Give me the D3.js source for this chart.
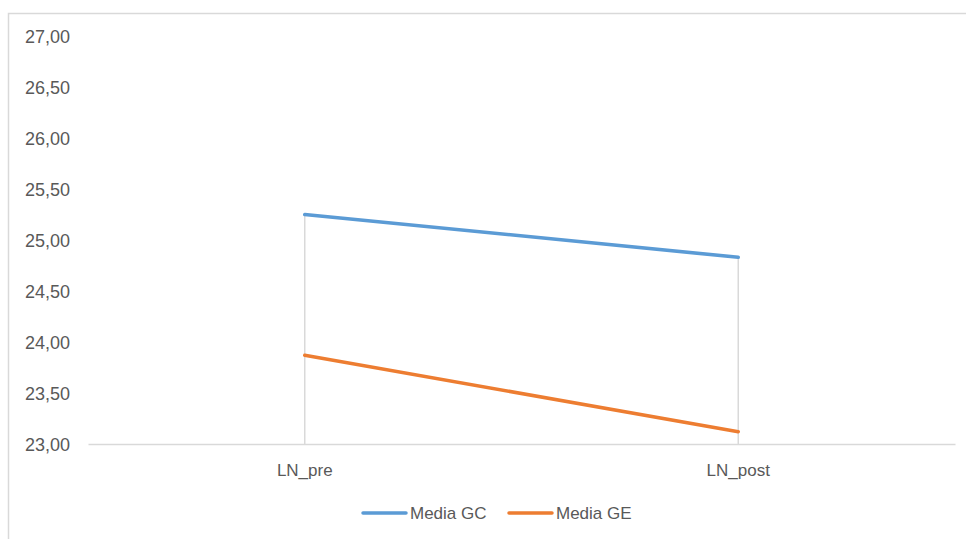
<!DOCTYPE html>
<html>
<head>
<meta charset="utf-8">
<script src="https://cdn.jsdelivr.net/npm/d3@7"></script>
<style>
  html, body { margin: 0; padding: 0; background: #fff; }
  svg { display: block; }
</style>
</head>
<body>
<svg id="chart" width="966" height="539"></svg>
<script>
// Category labels along the x axis
const categories = ["LN_pre", "LN_post"];
// Series names and their means per category
const seriesNames = ["Media GC", "Media GE"];
const mediaGC = [25.25, 24.83];
const mediaGE = [23.87, 23.12];
const seriesColors = ["#5B9BD5", "#ED7D31"];
// Y axis tick values
const yTicks = [23, 23.5, 24, 24.5, 25, 25.5, 26, 26.5, 27];

const svg = d3.select("#chart");
const font = "'Liberation Sans', Arial, sans-serif";
const textColor = "#595959";

// Chart-area frame (extends past the visible window on the right and bottom)
svg.append("rect")
  .attr("x", 8.5).attr("y", 13.5)
  .attr("width", 1000).attr("height", 600)
  .attr("fill", "#fff")
  .attr("stroke", "#d9d9d9")
  .attr("stroke-width", 1.5);

const plot = { left: 88, right: 955, top: 36, bottom: 444 };

const x = d3.scaleBand()
  .domain(categories)
  .range([plot.left, plot.right]);

const y = d3.scaleLinear()
  .domain([23, 27])
  .range([plot.bottom, plot.top]);

const cx = c => x(c) + x.bandwidth() / 2;

// Y axis labels (no axis line, no gridlines)
const yAxis = d3.axisLeft(y)
  .tickValues(yTicks)
  .tickSize(0)
  .tickPadding(0)
  .tickFormat(d => d3.format(".2f")(d).replace(".", ","));

const yG = svg.append("g")
  .attr("transform", `translate(70,0)`)
  .call(yAxis);
yG.select(".domain").remove();
yG.selectAll("text")
  .attr("font-family", font)
  .attr("font-size", 18)
  .attr("fill", textColor)
  .attr("dy", "0.36em");

// Drop lines from the highest point of each category to the x axis
const series = [mediaGC, mediaGE];
categories.forEach((c, i) => {
  const top = d3.max(series, s => s[i]);
  svg.append("line")
    .attr("x1", cx(c)).attr("x2", cx(c))
    .attr("y1", y(top)).attr("y2", y(23))
    .attr("stroke", "#d9d9d9")
    .attr("stroke-width", 1.5);
});

// X axis line and category labels
const xAxis = d3.axisBottom(x).tickSize(0).tickPadding(0);
const xG = svg.append("g")
  .attr("transform", `translate(0,${y(23)})`)
  .call(xAxis);
xG.select(".domain")
  .attr("stroke", "#d9d9d9")
  .attr("stroke-width", 1.5);
xG.selectAll("text")
  .attr("font-family", font)
  .attr("font-size", 17)
  .attr("fill", textColor)
  .attr("y", 26)
  .attr("dy", "0.36em");

// Series lines
const line = d3.line()
  .x((d, i) => cx(categories[i]))
  .y(d => y(d));

series.forEach((s, k) => {
  svg.append("path")
    .datum(s)
    .attr("d", line)
    .attr("fill", "none")
    .attr("stroke", seriesColors[k])
    .attr("stroke-width", 3.5)
    .attr("stroke-linecap", "round");
});

// Legend
const legendY = 513;
const legendItems = [
  { x: 363, name: seriesNames[0], color: seriesColors[0] },
  { x: 509, name: seriesNames[1], color: seriesColors[1] }
];
legendItems.forEach(it => {
  svg.append("line")
    .attr("x1", it.x).attr("x2", it.x + 43)
    .attr("y1", legendY).attr("y2", legendY)
    .attr("stroke", it.color)
    .attr("stroke-width", 3.5)
    .attr("stroke-linecap", "round");
  svg.append("text")
    .attr("x", it.x + 47)
    .attr("y", legendY)
    .attr("dy", "0.36em")
    .attr("font-family", font)
    .attr("font-size", 17)
    .attr("fill", textColor)
    .text(it.name);
});
</script>
</body>
</html>
